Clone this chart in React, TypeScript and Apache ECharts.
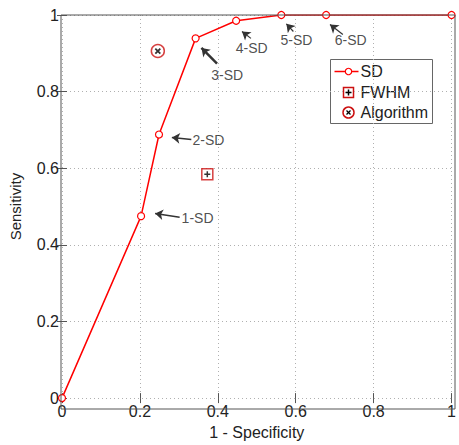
import React, { useEffect, useRef } from "react";
import * as echarts from "echarts";

const sdX = [0, 0.203, 0.249, 0.343, 0.447, 0.563, 0.678, 1];
const sdY = [0, 0.475, 0.688, 0.939, 0.985, 1, 1, 1];
const fwhm = [0.373, 0.584];
const algorithm = [0.246, 0.906];

const annLabels = ["1-SD", "2-SD", "3-SD", "4-SD", "5-SD", "6-SD"];
const annTail = [
  [0.302, 0.472],
  [0.332, 0.675],
  [0.398, 0.873],
  [0.485, 0.939],
  [0.594, 0.957],
  [0.721, 0.949],
];
const annHead = [
  [0.239, 0.482],
  [0.282, 0.68],
  [0.358, 0.914],
  [0.462, 0.957],
  [0.576, 0.977],
  [0.688, 0.975],
];
const annText = [
  [0.348, 0.47],
  [0.376, 0.675],
  [0.424, 0.843],
  [0.487, 0.914],
  [0.602, 0.934],
  [0.741, 0.934],
];
const annWidth = [1.5, 1.5, 2.5, 1.2, 1.2, 1.2];

const ticks = [0, 0.2, 0.4, 0.6, 0.8, 1];

const FONT = "'Liberation Sans', Arial, sans-serif";
const RED = "#ff0000";
const AX = "#555555";

export default function App() {
  const ref = useRef<HTMLDivElement>(null);
  useEffect(() => {
    if (!ref.current) return;
    document.body.style.margin = "0";
    document.body.style.overflow = "hidden";
    const chart = echarts.init(ref.current, undefined, { renderer: "svg", width: 459, height: 445 });
    const G = { left: 61, top: 15, width: 394, height: 394 };
    const fmt = (v: number) => (ticks.includes(Math.round(v * 10) / 10) ? String(Math.round(v * 10) / 10) : "");
    const baseAxis = {
      type: "value",
      min: 0,
      max: 1,
      interval: 0.2,
      axisLine: { show: false },
      axisTick: { show: true, inside: true, length: 5, lineStyle: { color: AX } },
      splitLine: { show: false },
    };
    chart.setOption({
      animation: false,
      backgroundColor: "#ffffff",
      grid: { ...G, containLabel: false },
      xAxis: [
        {
          ...baseAxis,
          position: "bottom",
          name: "1 - Specificity",
          nameLocation: "middle",
          nameGap: 22,
          nameTextStyle: { fontFamily: FONT, fontSize: 16, color: "#222" },
          axisLabel: { fontFamily: FONT, fontSize: 16, color: "#222", margin: 5, formatter: fmt },
          splitLine: { show: true, lineStyle: { color: "#b0b0b0", type: [1, 3], width: 1 } },
        },
        { ...baseAxis, position: "top", axisLabel: { show: false } },
      ],
      yAxis: [
        {
          ...baseAxis,
          position: "left",
          name: "Sensitivity",
          nameLocation: "middle",
          nameGap: 39,
          nameRotate: 90,
          nameTextStyle: { fontFamily: FONT, fontSize: 15, color: "#222" },
          axisLabel: { fontFamily: FONT, fontSize: 16, color: "#222", margin: 3, formatter: fmt },
          splitLine: { show: true, lineStyle: { color: "#b0b0b0", type: [1, 3], width: 1 } },
        },
        { ...baseAxis, position: "right", axisLabel: { show: false } },
      ],
      series: [
        {
          type: "line",
          name: "SD",
          data: sdX.map((x, i) => [x, sdY[i]]),
          symbol: "circle",
          symbolSize: 7,
          showAllSymbol: true,
          lineStyle: { color: RED, width: 1.5 },
          itemStyle: { color: "#ffffff", borderColor: RED, borderWidth: 1.2 },
          z: 3,
        },
        {
          type: "scatter",
          name: "FWHM",
          data: [fwhm],
          symbol: "rect",
          symbolSize: 11,
          itemStyle: { color: "#ffffff", borderColor: "#cc1111", borderWidth: 1.5 },
          z: 3,
        },
        {
          type: "scatter",
          name: "FWHMplus",
          data: [fwhm],
          symbol: "path://M5,0L5,10M0,5L10,5",
          symbolSize: 6,
          itemStyle: { color: "none", borderColor: "#000", borderWidth: 1.5 },
          z: 4,
        },
        {
          type: "scatter",
          name: "Algorithm",
          data: [algorithm],
          symbol: "circle",
          symbolSize: 13,
          itemStyle: { color: "#ffffff", borderColor: "#cc1111", borderWidth: 1.5 },
          z: 3,
        },
        {
          type: "scatter",
          name: "Algx",
          data: [algorithm],
          symbol: "path://M0,0L10,10M10,0L0,10",
          symbolSize: 5,
          itemStyle: { color: "none", borderColor: "#000", borderWidth: 1.8 },
          z: 4,
        },
        {
          type: "lines",
          coordinateSystem: "cartesian2d",
          data: annTail.map((t, i) => ({
            coords: [t, annHead[i]],
            lineStyle: { width: annWidth[i] },
          })),
          symbol: ["none", "arrow"],
          symbolSize: 8,
          lineStyle: { color: "#333333", width: 1.5, opacity: 1 },
          z: 5,
        },
        {
          type: "scatter",
          data: annText.map((p, i) => ({ value: p, name: annLabels[i] })),
          symbolSize: 0,
          label: {
            show: true,
            position: "inside",
            formatter: (p: any) => p.name,
            fontFamily: FONT,
            fontSize: 14,
            color: "#222",
          },
          z: 5,
        },
      ],
      graphic: [
        {
          type: "rect",
          shape: { x: G.left, y: G.top, width: G.width, height: G.height },
          style: { fill: "none", stroke: AX, lineWidth: 1 },
          z: 50,
          silent: true,
        },
        {
          type: "group",
          left: 330,
          top: 59,
          z: 60,
          children: [
            {
              type: "rect",
              shape: { x: 0, y: 0, width: 102, height: 64 },
              style: { fill: "#ffffff", stroke: "#666", lineWidth: 1 },
            },
            { type: "line", shape: { x1: 4, y1: 12, x2: 28, y2: 12 }, style: { stroke: RED, lineWidth: 1.5 } },
            { type: "circle", shape: { cx: 18, cy: 12, r: 3.2 }, style: { fill: "#fff", stroke: RED, lineWidth: 1.2 } },
            { type: "text", x: 30, y: 12, style: { text: "SD", fontFamily: FONT, fontSize: 16, fill: "#222", verticalAlign: "middle" } },
            { type: "rect", shape: { x: 13, y: 28, width: 10, height: 10 }, style: { fill: "#fff", stroke: "#cc1111", lineWidth: 1.5 } },
            { type: "line", shape: { x1: 18, y1: 30, x2: 18, y2: 36 }, style: { stroke: "#000", lineWidth: 1.5 } },
            { type: "line", shape: { x1: 15, y1: 33, x2: 21, y2: 33 }, style: { stroke: "#000", lineWidth: 1.5 } },
            { type: "text", x: 30, y: 33, style: { text: "FWHM", fontFamily: FONT, fontSize: 16, fill: "#222", verticalAlign: "middle" } },
            { type: "circle", shape: { cx: 18, cy: 53, r: 5.5 }, style: { fill: "#fff", stroke: "#cc1111", lineWidth: 1.5 } },
            { type: "line", shape: { x1: 16, y1: 51, x2: 20, y2: 55 }, style: { stroke: "#000", lineWidth: 1.3 } },
            { type: "line", shape: { x1: 20, y1: 51, x2: 16, y2: 55 }, style: { stroke: "#000", lineWidth: 1.3 } },
            { type: "text", x: 30, y: 53, style: { text: "Algorithm", fontFamily: FONT, fontSize: 16, fill: "#222", verticalAlign: "middle" } },
          ],
        },
      ],
    });
    return () => chart.dispose();
  }, []);
  return <div ref={ref} style={{ width: 459, height: 445, background: "#fff" }} />;
}
